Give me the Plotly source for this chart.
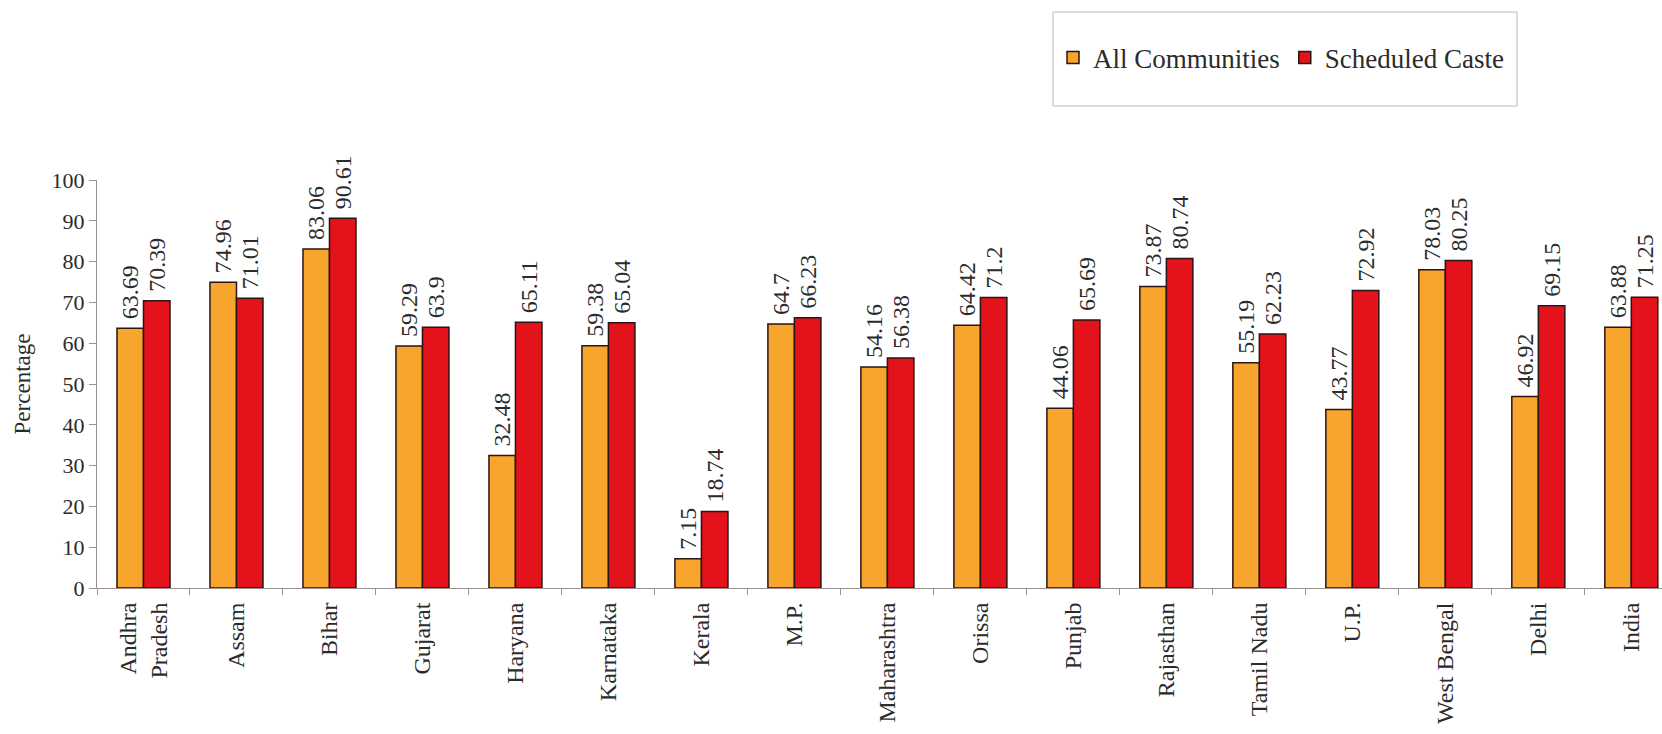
import plotly.graph_objects as go

# Share of population (%) by state: all communities vs scheduled caste
states = ["Andhra Pradesh", "Assam", "Bihar", "Gujarat", "Haryana", "Karnataka",
          "Kerala", "M.P.", "Maharashtra", "Orissa", "Punjab", "Rajasthan",
          "Tamil Nadu", "U.P.", "West Bengal", "Delhi", "India"]
state_labels = ["Andhra<br>Pradesh", "Assam", "Bihar", "Gujarat", "Haryana", "Karnataka",
                "Kerala", "M.P.", "Maharashtra", "Orissa", "Punjab", "Rajasthan",
                "Tamil Nadu", "U.P.", "West Bengal", "Delhi", "India"]
all_communities = [63.69, 74.96, 83.06, 59.29, 32.48, 59.38, 7.15, 64.7, 54.16,
                   64.42, 44.06, 73.87, 55.19, 43.77, 78.03, 46.92, 63.88]
scheduled_caste = [70.39, 71.01, 90.61, 63.9, 65.11, 65.04, 18.74, 66.23, 56.38,
                   71.2, 65.69, 80.74, 62.23, 72.92, 80.25, 69.15, 71.25]
y_ticks = [0, 10, 20, 30, 40, 50, 60, 70, 80, 90, 100]

SERIF = "Times New Roman, Liberation Serif, serif"
TEXT = "#2b2b2b"
AXIS = "#9a9090"
W, H = 1662, 734
ML, MR, MT, MB = 97, 0, 180, 146


def bar(name, values, color):
    return go.Bar(
        name=name, x=states, y=values,
        marker=dict(color=color, line=dict(color="#2a1414", width=1.5)),
        # a leading no-break space keeps the value clear of the bar top
        text=["\u00a0" + f"{v:g}" for v in values], texttemplate="%{text}",
        textposition="outside", textangle=-90, constraintext="none",
        cliponaxis=False,
        textfont=dict(size=24, color=TEXT),
    )


fig = go.Figure([
    bar("All Communities", all_communities, "#F7A52C"),
    bar("Scheduled Caste", scheduled_caste, "#E3121B"),
])

# legend frame, in paper coordinates of the plot area
pw, ph = W - ML - MR, H - MT - MB


def px_x(v):
    return (v - ML) / pw


def px_y(v):
    return (H - MB - v) / ph


fig.add_shape(type="rect", xref="paper", yref="paper",
              x0=px_x(1053), x1=px_x(1517), y0=px_y(106), y1=px_y(12),
              line=dict(color="#c2b4ac", width=1), fillcolor="rgba(0,0,0,0)")

fig.update_layout(
    template="none",
    width=W, height=H,
    margin=dict(l=ML, r=MR, t=MT, b=MB, pad=0),
    paper_bgcolor="white", plot_bgcolor="white",
    barmode="group", bargap=0.43, bargroupgap=0,
    font=dict(family=SERIF, color=TEXT, size=22),
    showlegend=True,
    legend=dict(orientation="h", x=px_x(1053), xanchor="left",
                y=px_y(58), yanchor="middle",
                font=dict(size=27, color=TEXT),
                bgcolor="rgba(0,0,0,0)", borderwidth=0,
                traceorder="normal"),
    xaxis=dict(
        type="category", range=[-0.5, 16.33],
        tickmode="array", tickvals=states, ticktext=state_labels,
        tickangle=-90, tickson="boundaries", ticks="outside", ticklen=6,
        tickcolor=AXIS, showline=True, linecolor=AXIS, linewidth=1,
        showgrid=False, zeroline=False, ticklabelstandoff=4,
        automargin=False,
        tickfont=dict(size=24, color=TEXT),
    ),
    yaxis=dict(
        range=[0, 100], tickvals=y_ticks, ticks="outside", ticklen=7,
        tickcolor=AXIS, showline=True, linecolor=AXIS, linewidth=1,
        showgrid=False, zeroline=False, automargin=False,
        tickfont=dict(size=22, color=TEXT),
        title=dict(text="Percentage", standoff=14,
                   font=dict(size=23, color=TEXT)),
    ),
)

fig.write_html("out.html")
